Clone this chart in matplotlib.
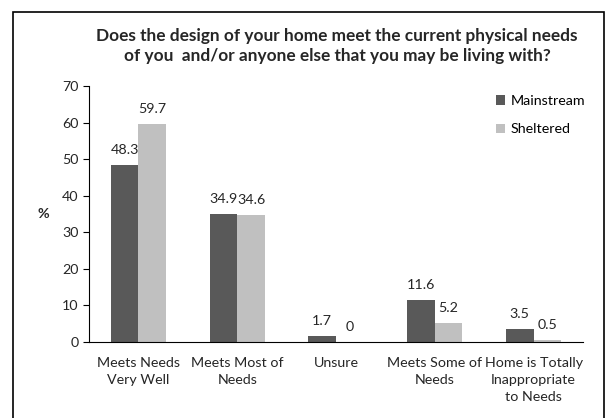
import numpy as np
import matplotlib.pyplot as plt
from matplotlib.patches import Rectangle

categories = ["Meets Needs\nVery Well", "Meets Most of\nNeeds", "Unsure",
              "Meets Some of\nNeeds", "Home is Totally\nInappropriate\nto Needs"]
mainstream = [48.3, 34.9, 1.7, 11.6, 3.5]
sheltered = [59.7, 34.6, 0, 5.2, 0.5]

plt.rcParams['font.family'] = ['Lato', 'DejaVu Sans']
txt = '#262626'
fs = 10.3

fig = plt.figure(figsize=(6.1, 4.18), dpi=100)
ax = fig.add_axes([89/610, 1-342/418, 494/610, 256/418])

x = np.arange(len(categories))
w = 0.28
b1 = ax.bar(x - w/2, mainstream, w, color='#595959', label='Mainstream')
b2 = ax.bar(x + w/2, sheltered, w, color='#c0c0c0', label='Sheltered')
for bars, vals in ((b1, mainstream), (b2, sheltered)):
    for r, v in zip(bars, vals):
        ax.annotate(f"{v:g}", (r.get_x() + r.get_width()/2, v), xytext=(0, 10.8),
                    textcoords='offset points', ha='center', va='center',
                    fontsize=fs, color=txt)

ax.set_xlim(-0.5, len(categories) - 0.5)
ax.set_ylim(0, 70)
ax.set_yticks(range(0, 71, 10))
ax.set_xticks(x)
ax.set_xticklabels(categories, fontsize=fs, color=txt, linespacing=1.5)
ax.tick_params(axis='y', labelsize=fs, labelcolor=txt, length=4, direction='out')
ax.tick_params(axis='x', length=0, pad=11)
for s in ('top', 'right'):
    ax.spines[s].set_visible(False)
ax.spines['left'].set_color('#000000')
ax.spines['bottom'].set_color('#000000')
ax.set_ylabel('%', fontsize=fs, fontweight='bold', rotation=0, color=txt, va='center')
ax.yaxis.set_label_coords(-0.093, 0.5)

fig.legend(loc='upper left', bbox_to_anchor=(496/610, 1-95/418), frameon=False,
           fontsize=fs, handlelength=0.65, handleheight=0.65, handletextpad=0.35,
           labelspacing=1.15, borderpad=0, borderaxespad=0)

fig.text(337/610, 1-46/418,
         "Does the design of your home meet the current physical needs\nof you  and/or anyone else that you may be living with?",
         ha='center', va='center', fontsize=12.4, fontweight='bold', color=txt, linespacing=1.33)

fig.patches.append(Rectangle((13/610, -0.05), 591/610, 1.05 - 12/418, transform=fig.transFigure,
                             fill=False, edgecolor='#000000', linewidth=1.2))

fig.savefig('out.png', dpi=100)
